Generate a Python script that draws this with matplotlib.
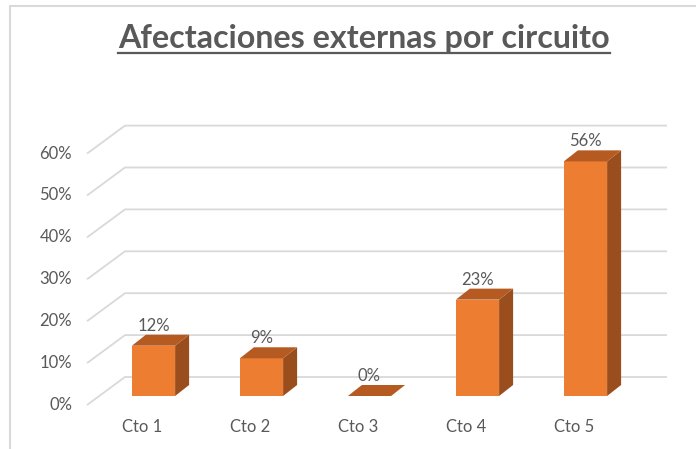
import matplotlib
matplotlib.use("Agg")
import matplotlib.pyplot as plt
from matplotlib.patches import Polygon
from matplotlib.lines import Line2D
import numpy as np

# ---- data ----
categories = ["Cto 1", "Cto 2", "Cto 3", "Cto 4", "Cto 5"]
values = [0.12, 0.09, 0.0, 0.23, 0.56]
yticks = [0.0, 0.1, 0.2, 0.3, 0.4, 0.5, 0.6]
title = "Afectaciones externas por circuito"

# ---- style ----
FRONT = "#ED7D31"
SIDE = "#9A4E1E"
TOP = "#B55B21"
GRID = "#D9D9D9"
TXT = "#595959"
FONT = "Lato"

W, H = 696, 449
fig = plt.figure(figsize=(W / 100, H / 100), dpi=100)
ax = fig.add_axes([0, 0, 1, 1])
PX_X = 108.0   # pixels per category
PX_Y = 419.0   # pixels per unit value
X0_PX, Y0_PX = 153.5, 396.0
ax.set_xlim(-X0_PX / PX_X, (W - X0_PX) / PX_X)
ax.set_ylim((Y0_PX - H) / PX_Y, Y0_PX / PX_Y)
ax.axis("off")

def dx(p):
    return p / PX_X

def dy(p):
    return p / PX_Y

x = np.arange(len(categories))

# floor/wall gridlines
left_front = x[0] + dx(87 - 153.5)
right_back = x[-1] + dx(667 - 585.5)
for t in yticks:
    yf = t - dy(9)
    yb = t + dy(19)
    xb = left_front + dx(38)
    ax.plot([left_front, xb, right_back], [yf, yb, yb], color=GRID, lw=1.3,
            zorder=1, solid_capstyle="butt")
    ax.text(x[0] + dx(72 - 153.5), yf, f"{int(round(t * 100))}%", ha="right",
            va="center", fontsize=12, color=TXT, family=FONT)

# bars
bw = 0.4
bdx, bdy = dx(14), dy(11)
ax.bar(x, values, width=bw, color=FRONT, zorder=3, linewidth=0)
for xi, v in zip(x, values):
    r = xi + bw / 2
    l = xi - bw / 2
    if v > 0:
        ax.add_patch(Polygon([(r, 0), (r + bdx, bdy), (r + bdx, v + bdy), (r, v)],
                             closed=True, facecolor=SIDE, edgecolor="none", zorder=3))
    ax.add_patch(Polygon([(l, v), (l + bdx, v + bdy), (r + bdx, v + bdy), (r, v)],
                         closed=True, facecolor=TOP, edgecolor="none", zorder=3))
    ax.text(xi, v + bdy + dy(1), f"{int(round(v * 100))}%", ha="center", va="bottom",
            fontsize=12, color=TXT, family=FONT, zorder=4)

for xi, c in zip(x, categories):
    ax.text(xi - dx(11), dy(396 - 427), c, ha="center", va="center",
            fontsize=12, color=TXT, family=FONT)

# title with underline
tt = fig.text(364 / W, 1 - 48 / H, title, ha="center", va="baseline",
              fontsize=23.2, fontweight="bold", color=TXT, family=FONT)
fig.canvas.draw()
bb = tt.get_window_extent(renderer=fig.canvas.get_renderer())
uy = 1 - 52.5 / H
fig.add_artist(Line2D([bb.x0 / W, bb.x1 / W], [uy, uy], color=TXT, lw=1.6,
                      transform=fig.transFigure))

# chart border (partially visible)
fig.add_artist(Line2D([10 / W, 10 / W, 1], [0, 1 - 6 / H, 1 - 6 / H], color="#D9D9D9",
                      lw=1.5, transform=fig.transFigure))

fig.savefig("out.png", dpi=100, facecolor="white")
